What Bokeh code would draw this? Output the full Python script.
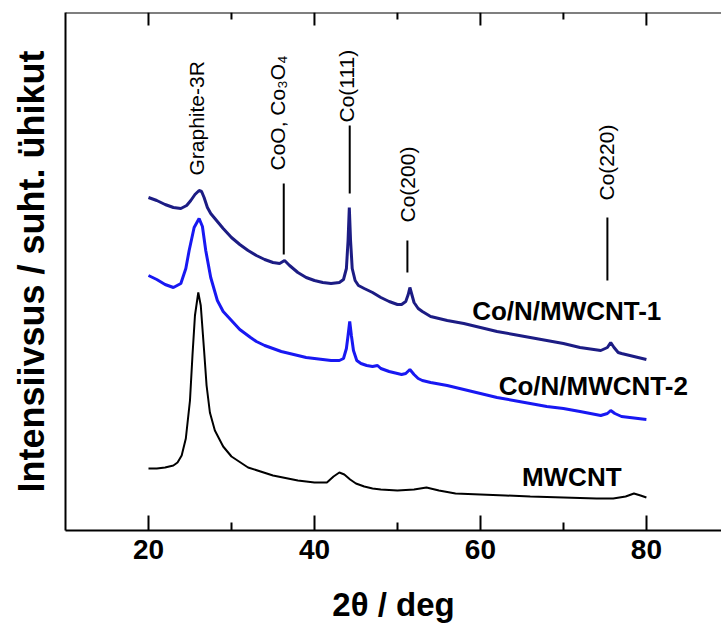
import math

from bokeh.core.properties import value
from bokeh.embed import file_html
from bokeh.models import FixedTicker, Label, LinearAxis, Range1d, Span
from bokeh.plotting import figure
from bokeh.resources import INLINE

# XRD patterns (2-theta in degrees, intensity in arbitrary units, curves offset)
two_theta_cnt1 = [20, 21, 22, 23, 23.9, 24.6, 25.1, 25.6, 26.1, 26.4,
                  26.7, 27.1, 27.5, 28, 29, 30, 31, 32, 33, 34,
                  35, 35.8, 36.4, 37, 38, 39, 40, 41, 42, 43,
                  43.5, 43.85, 44.05, 44.2, 44.35, 44.55, 44.9, 45.3, 46, 47,
                  48, 49, 50, 50.5, 51.0, 51.3, 51.5, 51.7, 52.0, 52.5,
                  53, 54, 56, 58, 60, 62, 64, 66, 68, 70,
                  72, 74.5, 75.3, 75.7, 76.1, 76.6, 77, 78, 79, 80]
intensity_cnt1 = [333, 330, 326, 323, 322, 325, 330, 336, 340, 339,
                  333, 323, 317, 312, 302, 293, 286, 280, 275, 271,
                  268, 267, 270, 265, 258, 253, 250, 248, 247, 248,
                  251, 262, 290, 323, 290, 262, 250, 245, 242, 238,
                  233, 229, 226, 226, 229, 236, 243, 237, 228, 222,
                  219, 214, 210, 207, 203, 199, 196, 193, 190, 187,
                  183, 180, 183, 188, 183, 178, 177, 175, 173, 171]

two_theta_cnt2 = [20, 21, 22, 23, 23.9, 24.5, 24.9, 25.5, 26.1, 26.5,
                  26.9, 27.5, 28.3, 29, 30, 31, 32.3, 33, 34, 35,
                  36, 37, 38, 39, 40, 41, 42, 43, 43.5, 43.85,
                  44.05, 44.25, 44.45, 44.7, 45.1, 45.6, 46.3, 47, 47.6, 48,
                  49, 50, 50.5, 51.0, 51.5, 52.0, 52.5, 53, 54, 56,
                  58, 60, 62, 64, 66, 68, 70, 72, 74.5, 75.3,
                  75.7, 76.2, 77, 78, 79, 80]
intensity_cnt2 = [255, 251, 246, 243, 247, 262, 280, 303, 312, 304,
                  280, 253, 230, 219, 210, 201, 193, 189, 185, 182,
                  179, 177, 175, 173, 172, 171, 170, 170, 172, 182,
                  195, 209, 195, 180, 170, 167, 165, 164, 165, 162,
                  159, 157, 156, 157, 161, 156, 152, 150, 148, 145,
                  141, 137, 133, 130, 127, 124, 122, 119, 115, 117,
                  120, 117, 114, 113, 112, 111]

two_theta_mwcnt = [20, 21, 22, 23, 23.5, 24.0, 24.5, 25.0, 25.3, 25.6,
                   26.0, 26.3, 26.7, 27.0, 27.4, 28, 29, 30, 32, 35,
                   38, 40, 41.5, 42.3, 43, 43.6, 44.3, 45, 46, 47,
                   48, 50, 52, 53.5, 55, 57, 60, 63, 66, 70,
                   74, 76, 77.5, 78.5, 79.3, 80]
intensity_mwcnt = [62, 62, 63, 65, 68, 75, 92, 130, 175, 215,
                   238, 225, 180, 145, 118, 100, 84, 74, 63, 55,
                   50, 48, 48, 54, 58, 56, 51, 47, 44, 42,
                   41, 40, 41, 43, 40, 37, 36, 35, 34, 33,
                   32, 32, 34, 37, 35, 33]

series_names = ["Co/N/MWCNT-1", "Co/N/MWCNT-2", "MWCNT"]

# reflection assignments: label text and 2-theta of the marked reflection
phase_labels = ["Graphite-3R", "CoO, Co\u2083O\u2084", "Co(111)", "Co(200)", "Co(220)"]
phase_two_theta = [25.8, 36.3, 44.25, 51.2, 75.3]

x_ticks = [20, 40, 60, 80]
x_minor_ticks = [30, 50, 70]

FONT = "Liberation Sans"
Y_TOP = 518

p = figure(width=721, height=628,
           x_range=Range1d(10, 89.05), y_range=Range1d(0, Y_TOP),
           x_axis_location=None, y_axis_location=None,
           min_border_left=65, min_border_right=0,
           min_border_top=12, min_border_bottom=98,
           output_backend="svg", toolbar_location=None)
p.outline_line_color = None
p.background_fill_color = "white"
p.border_fill_color = "white"
p.grid.visible = False

# bottom axis with inward ticks
bottom = LinearAxis(ticker=FixedTicker(ticks=x_ticks, minor_ticks=x_minor_ticks))
bottom.axis_line_width = 2
bottom.major_tick_line_width = 2
bottom.minor_tick_line_width = 2
bottom.major_tick_in = 15
bottom.major_tick_out = 0
bottom.minor_tick_in = 8
bottom.minor_tick_out = 0
bottom.major_label_standoff = 9
bottom.major_label_text_font = FONT
bottom.major_label_text_font_style = "bold"
bottom.major_label_text_font_size = "28px"
bottom.major_label_text_color = "black"
bottom.axis_label = "2\u03b8 / deg"
bottom.axis_label_text_font = FONT
bottom.axis_label_text_font_style = "bold"
bottom.axis_label_text_font_size = "33px"
bottom.axis_label_text_color = "black"
bottom.axis_label_standoff = 24
p.add_layout(bottom, "below")

# left axis: line and title only
left = LinearAxis(ticker=FixedTicker(ticks=[]))
left.axis_line_width = 2
left.major_tick_in = 0
left.major_tick_out = 0
left.minor_tick_in = 0
left.minor_tick_out = 0
left.axis_label = "Intensiivsus / suht. \u00fchikut"
left.axis_label_text_font = FONT
left.axis_label_text_font_style = "bold"
left.axis_label_text_font_size = "36px"
left.axis_label_text_color = "black"
left.axis_label_standoff = 14
p.add_layout(left, "left")

# top frame line with mirrored inward ticks
p.add_layout(Span(location=Y_TOP, dimension="width", line_color="black", line_width=2))
p.segment(x0=x_ticks, y0=[Y_TOP] * len(x_ticks), x1=x_ticks, y1=[Y_TOP - 13] * len(x_ticks),
          line_color="black", line_width=2)
p.segment(x0=x_minor_ticks, y0=[Y_TOP] * len(x_minor_ticks), x1=x_minor_ticks,
          y1=[Y_TOP - 7] * len(x_minor_ticks), line_color="black", line_width=2)

# patterns
p.line(two_theta_cnt1, intensity_cnt1, line_color="#1c1c84", line_width=3)
p.line(two_theta_cnt2, intensity_cnt2, line_color="#1818f2", line_width=3)
p.line(two_theta_mwcnt, intensity_mwcnt, line_color="black", line_width=2)

# series names next to the curves
name_pos = [(59.0, 220), (62.2, 145), (65.0, 53.3)]
for name, (nx, ny) in zip(series_names, name_pos):
    p.add_layout(Label(x=nx, y=ny, text=name, text_font=FONT,
                       text_font_style="bold", text_font_size="26px",
                       text_color="black", text_baseline="alphabetic",
                       text_align="left"))

# reflection labels (rotated) and marker ticks
label_x = [25.8, 35.5, 43.9, 51.2, 75.15]
label_y = [355, 360, 408, 308, 330]
marker_spans = [None, (276, 347), (337, 405), (258, 290), (250, 313)]
p.text(x=label_x, y=label_y, text=phase_labels, angle=math.pi / 2,
       text_font=value(FONT), text_font_size="21px", text_color="black",
       text_align="left", text_baseline="middle")
for tt, span in zip(phase_two_theta, marker_spans):
    if span is None:
        continue
    p.segment(x0=[tt], y0=[span[0]], x1=[tt], y1=[span[1]],
              line_color="black", line_width=2)

open("out.html", "w").write(file_html(p, INLINE))
